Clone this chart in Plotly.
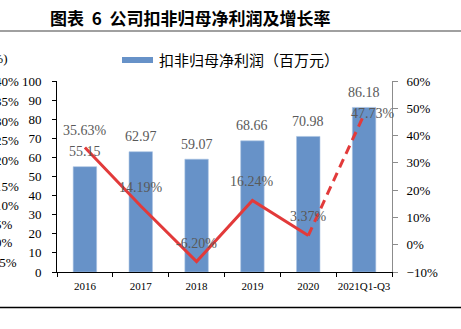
import plotly.graph_objects as go

# ---- data ----
categories = ["2016", "2017", "2018", "2019", "2020", "2021Q1-Q3"]
profit = [55.15, 62.97, 59.07, 68.66, 70.98, 86.18]
growth = [35.63, 14.19, -6.20, 16.24, 3.37, 47.73]
growth_labels = ["35.63%", "14.19%", "-6.20%", "16.24%", "3.37%", "47.73%"]
profit_labels = ["55.15", "62.97", "59.07", "68.66", "70.98", "86.18"]
neighbor_ticks = ["40%", "35%", "30%", "25%", "20%", "15%", "10%", "5%", "0%", "-5%"]

title = "图表&nbsp;&nbsp;6&nbsp;&nbsp;公司扣非归母净利润及增长率"
legend_name = "扣非归母净利润（百万元）"

# ---- layout geometry (pixels) ----
W, H = 461, 329
L, R, T, B = 57, 392, 81, 272

def px(x):
    return (x - L) / (R - L)

def py(y):
    return (B - y) / (B - T)

SERIF = "Liberation Serif, Times New Roman, serif"
CJK = "Noto Sans CJK SC, sans-serif"
BAR_C = "#6792C8"
LINE_C = "#E23A3A"
LABEL_C = "#595959"

fig = go.Figure()

fig.add_trace(go.Bar(
    x=categories, y=profit, name=legend_name, width=0.42,
    marker=dict(color=BAR_C, line=dict(color="#A9C3E3", width=0.6)),
    showlegend=False, yaxis="y",
))

# solid part of growth line
fig.add_trace(go.Scatter(
    x=categories[:5], y=growth[:5], mode="lines", yaxis="y2",
    line=dict(color=LINE_C, width=3), showlegend=False,
))
# dashed last segment
fig.add_trace(go.Scatter(
    x=categories[4:], y=growth[4:], mode="lines", yaxis="y2",
    line=dict(color=LINE_C, width=3, dash="9px,6px"), showlegend=False,
))

annotations = []
# bar value labels (x given as category index on the category axis)
for i, (v, t) in enumerate(zip(profit, profit_labels)):
    annotations.append(dict(x=i, y=v, xref="x", yref="y", text=t, showarrow=False,
                            yanchor="middle", yshift=15,
                            font=dict(family=SERIF, size=14, color=LABEL_C)))
# growth labels
g_yshift = [17, 19, 18, 19, 19, 1]
g_xshift = [0, 0, 0, 0, 0, 9]
for i, (v, t, ys, xs) in enumerate(zip(growth, growth_labels, g_yshift, g_xshift)):
    annotations.append(dict(x=i, y=v, xref="x", yref="y2", text=t, showarrow=False,
                            yanchor="middle", yshift=ys, xshift=xs,
                            font=dict(family=SERIF, size=14, color=LABEL_C)))

# title
annotations.append(dict(x=px(48), y=py(17), xref="paper", yref="paper", text="<b>" + title + "</b>",
                        showarrow=False, xanchor="left", yanchor="middle",
                        font=dict(family=CJK, size=17, color="#000000")))
# legend text
annotations.append(dict(x=px(157), y=py(60), xref="paper", yref="paper", text=legend_name,
                        showarrow=False, xanchor="left", yanchor="middle",
                        font=dict(family=CJK, size=15, color="#000000")))

# cut-off neighbour axis labels at the left edge
annotations.append(dict(x=px(-14), y=py(58), xref="paper", yref="paper", text="(%)",
                        showarrow=False, xanchor="left", yanchor="middle",
                        font=dict(family=SERIF, size=13, color="#000000")))
neighbor_y = [82, 101, 121, 140, 160, 186, 205, 224, 242, 262]
for t, yy in zip(neighbor_ticks, neighbor_y):
    annotations.append(dict(x=px(-7), y=py(yy), xref="paper", yref="paper", text=t,
                            showarrow=False, xanchor="left", yanchor="middle",
                            font=dict(family=SERIF, size=13, color="#000000")))

shapes = [
    # line under title
    dict(type="line", xref="paper", yref="paper", x0=px(0), x1=px(461), y0=py(31), y1=py(31),
         line=dict(color="#808080", width=1.6)),
    # bottom rule
    dict(type="line", xref="paper", yref="paper", x0=px(0), x1=px(461), y0=py(307.5), y1=py(307.5),
         line=dict(color="#000000", width=1.3)),
    # legend swatch
    dict(type="rect", xref="paper", yref="paper", x0=px(122), x1=px(153), y0=py(63), y1=py(57),
         fillcolor=BAR_C, line=dict(width=0)),
]

fig.update_layout(
    width=W, height=H, autosize=False,
    margin=dict(l=L, r=W - R, t=T, b=H - B, pad=0),
    paper_bgcolor="white", plot_bgcolor="white",
    showlegend=False,
    annotations=annotations, shapes=shapes,
    xaxis=dict(
        type="category", categoryorder="array", categoryarray=categories,
        range=[-0.5, len(categories) - 0.5], tickangle=0,
        showgrid=False, showline=True, linecolor="#000000", linewidth=1,
        ticks="outside", tickson="boundaries", ticklen=4, tickcolor="#000000",
        tickfont=dict(family=SERIF, size=11, color="#000000"),
        ticklabelstandoff=4,
    ),
    yaxis=dict(
        range=[0, 100], dtick=10, showgrid=False, zeroline=False,
        showline=True, linecolor="#000000", linewidth=1,
        ticks="outside", ticklen=4, tickcolor="#000000",
        tickfont=dict(family=SERIF, size=13, color="#000000"),
        ticklabelstandoff=8,
    ),
    yaxis2=dict(
        range=[-10, 60], dtick=10, ticksuffix="%", overlaying="y", side="right",
        showgrid=False, zeroline=False, showline=True, linecolor="#8c8c8c", linewidth=1,
        ticks="outside", ticklen=5, tickcolor="#8c8c8c",
        tickfont=dict(family=SERIF, size=13, color="#000000"),
        ticklabelstandoff=6,
    ),
)

fig.write_html("out.html")
